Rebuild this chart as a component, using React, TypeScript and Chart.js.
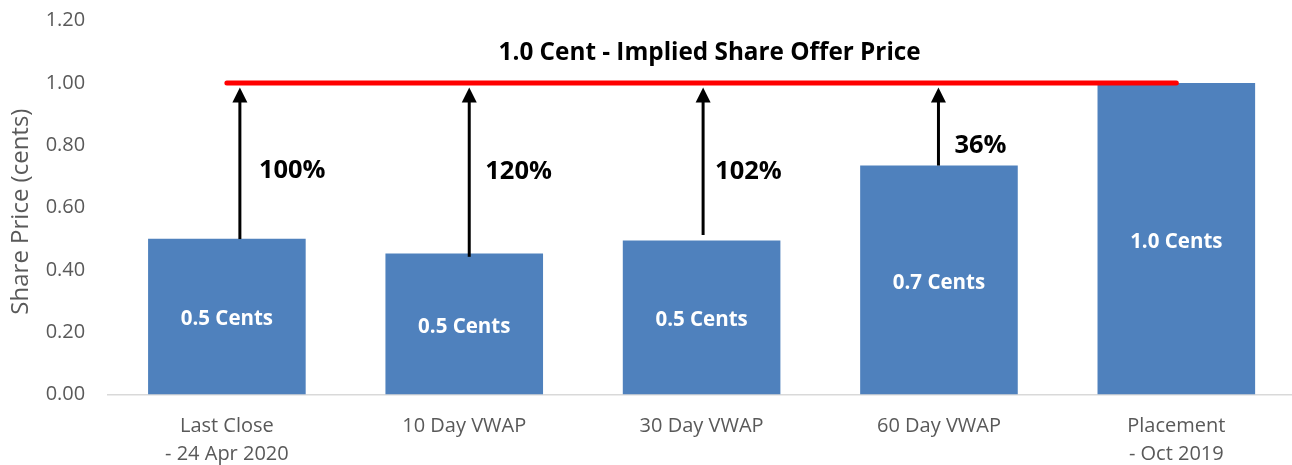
import React, { useEffect, useRef } from "react";
import { Chart, registerables } from "chart.js";

Chart.register(...registerables);

// ---------- data ----------
const categories: (string | string[])[] = [
  ["Last Close", "- 24 Apr 2020"],
  "10 Day VWAP",
  "30 Day VWAP",
  "60 Day VWAP",
  ["Placement", "- Oct 2019"],
];
const sharePrices = [0.5, 0.453, 0.494, 0.735, 1.0];
const barLabels = ["0.5 Cents", "0.5 Cents", "0.5 Cents", "0.7 Cents", "1.0 Cents"];
const offerPrice = 1.0;
const offerLabel = "1.0 Cent - Implied Share Offer Price";
const premiumLabels = ["100%", "120%", "102%", "36%"];
const arrowBaseValues = [0.499, 0.442, 0.512, 0.735];
const premiumLabelValues = [0.718, 0.714, 0.714, 0.8];
const offerLabelValue = 1.095;
const yMin = 0;
const yMax = 1.2;
const yStep = 0.2;
const yAxisTitle = "Share Price (cents)";

// ---------- styling / layout constants ----------
const FONT = "'Open Sans', sans-serif";
const GREY = "#595959";
const BLUE = "#4F81BD";
const RED = "#FF0000";
const arrowDx = [13, 5, 1.5, -0.5];
const labelDx = [19, 16, 12, 16];

const annotationPlugin = {
  id: "offerAnnotations",
  afterDatasetsDraw(chart: any) {
    const { ctx, chartArea } = chart;
    const x = chart.scales.x;
    const y = chart.scales.y;
    const meta = chart.getDatasetMeta(0);
    ctx.save();

    // y axis title
    ctx.save();
    ctx.fillStyle = GREY;
    ctx.font = `normal 24px ${FONT}`;
    ctx.textAlign = "center";
    ctx.textBaseline = "middle";
    ctx.translate(21, (chartArea.top + chartArea.bottom) / 2 + 4);
    ctx.rotate(-Math.PI / 2);
    ctx.fillText(yAxisTitle, 0, 0);
    ctx.restore();

    // bar value labels
    ctx.fillStyle = "#FFFFFF";
    ctx.font = `bold 20.5px ${FONT}`;
    ctx.textAlign = "center";
    ctx.textBaseline = "middle";
    meta.data.forEach((bar: any, i: number) => {
      const midY = (bar.y + bar.base) / 2 + 3;
      ctx.fillText(barLabels[i], bar.x, midY);
    });

    // red offer line
    const yOffer = y.getPixelForValue(offerPrice);
    const x0 = x.getPixelForValue(0);
    const x1 = x.getPixelForValue(categories.length - 1);
    ctx.strokeStyle = RED;
    ctx.lineWidth = 5;
    ctx.lineCap = "round";
    ctx.beginPath();
    ctx.moveTo(x0, yOffer);
    ctx.lineTo(x1, yOffer);
    ctx.stroke();

    // arrows + premium labels
    premiumLabels.forEach((lab, i) => {
      const ax = x.getPixelForValue(i) + arrowDx[i];
      const yBase = y.getPixelForValue(arrowBaseValues[i]);
      const tipY = yOffer + 4.5;
      const headLen = 15;
      const headHalf = 7.5;
      ctx.strokeStyle = "#000000";
      ctx.fillStyle = "#000000";
      ctx.lineWidth = 3;
      ctx.lineCap = "butt";
      ctx.beginPath();
      ctx.moveTo(ax, yBase);
      ctx.lineTo(ax, tipY + headLen - 1);
      ctx.stroke();
      ctx.beginPath();
      ctx.moveTo(ax, tipY);
      ctx.lineTo(ax - headHalf, tipY + headLen);
      ctx.lineTo(ax + headHalf, tipY + headLen);
      ctx.closePath();
      ctx.fill();

      ctx.font = `bold 25.5px ${FONT}`;
      ctx.textAlign = "left";
      ctx.textBaseline = "middle";
      ctx.fillText(lab, ax + labelDx[i], y.getPixelForValue(premiumLabelValues[i]));
    });

    // offer label
    ctx.fillStyle = "#000000";
    ctx.font = `bold 24.3px ${FONT}`;
    ctx.textAlign = "center";
    ctx.textBaseline = "middle";
    ctx.fillText(offerLabel, (x0 + x1) / 2 + 8, y.getPixelForValue(offerLabelValue));

    ctx.restore();
  },
};

export default function App() {
  const canvasRef = useRef<HTMLCanvasElement | null>(null);

  useEffect(() => {
    const canvas = canvasRef.current;
    if (!canvas) return;
    const chart = new Chart(canvas, {
      type: "bar",
      data: {
        labels: categories,
        datasets: [
          {
            data: sharePrices,
            backgroundColor: BLUE,
            borderWidth: 0,
            categoryPercentage: 0.664,
            barPercentage: 1,
          },
        ],
      },
      options: {
        responsive: false,
        animation: false,
        devicePixelRatio: 1,
        layout: { padding: { top: 20.7, left: 0, right: 0, bottom: 0 } },
        plugins: {
          legend: { display: false },
          tooltip: { enabled: false },
        },
        scales: {
          x: {
            type: "category",
            grid: { display: false, drawTicks: false },
            border: { display: true, color: "#D9D9D9", width: 1.5 },
            ticks: {
              color: GREY,
              font: { family: FONT, size: 20, lineHeight: 1.4 },
              padding: 18,
              maxRotation: 0,
              autoSkip: false,
            },
            afterFit: (s: any) => {
              s.height = 70.5;
            },
          },
          y: {
            min: yMin,
            max: yMax,
            grid: { display: false, drawTicks: false },
            border: { display: false },
            ticks: {
              stepSize: yStep,
              color: GREY,
              font: { family: FONT, size: 20 },
              padding: 23,
              callback: (v: any) => Number(v).toFixed(2),
            },
            afterFit: (s: any) => {
              s.width = 108.2;
              s.paddingTop = 0;
              s.paddingBottom = 0;
            },
          },
        },
      },
      plugins: [annotationPlugin],
    });
    return () => chart.destroy();
  }, []);

  return (
    <div
      style={{
        position: "absolute",
        left: 0,
        top: 0,
        width: 1292,
        height: 465,
        overflow: "hidden",
        background: "#FFFFFF",
      }}
    >
      <canvas ref={canvasRef} width={1295} height={465} style={{ width: 1295, height: 465, display: "block" }} />
    </div>
  );
}
